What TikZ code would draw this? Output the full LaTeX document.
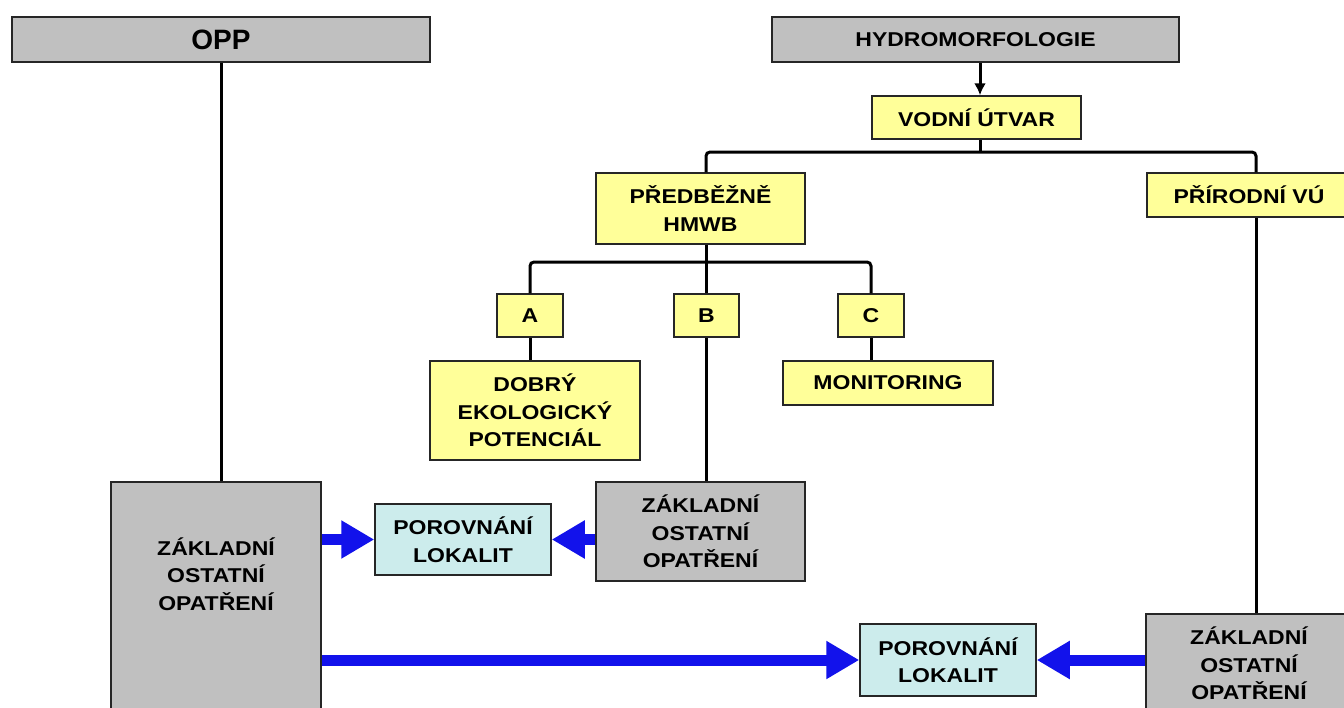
\documentclass[tikz,border=0pt]{standalone}
\usepackage{fontspec}
\setmainfont{Liberation Sans}
\newfontfamily\boxfont{Liberation Sans}[FakeStretch=1.15]
\usetikzlibrary{arrows.meta}
\definecolor{boxgray}{RGB}{192,192,192}
\definecolor{boxyellow}{RGB}{255,255,153}
\definecolor{boxcyan}{RGB}{204,236,236}
\definecolor{flowblue}{RGB}{18,18,235}

\begin{document}
\begin{tikzpicture}
    [
    x=1pt, y=-1pt,
    box/.style={draw=black!85,line width=1.5pt,rectangle,inner sep=0pt,align=center,
      font=\boxfont\bfseries\fontsize{20}{27.5}\selectfont},
    graybox/.style={box,fill=boxgray},
    yellowbox/.style={box,fill=boxyellow},
    cyanbox/.style={box,fill=boxcyan},
    conn/.style={line width=3pt},
    flow/.style={draw=flowblue,line width=11pt,-{Triangle[length=33pt,width=36pt]}}
    ]
    \clip (0,0) rectangle (1344,707);
    \fill [white] (0,0) rectangle (1344,707);
    \node (opp) at (221,39.5) [graybox,minimum width=418pt,minimum height=45pt,
      font=\bfseries\fontsize{28}{30}\selectfont] {OPP};
    \node (hydro) at (975.5,39.5) [graybox,minimum width=407pt,minimum height=45pt] {HYDROMORFOLOGIE};
    \node (vodni) at (976.5,117.5) [yellowbox,minimum width=209pt,minimum height=43pt] {VODNÍ ÚTVAR};
    \node (hmwb) at (700.5,208.5) [yellowbox,minimum width=209pt,minimum height=71pt] {PŘEDBĚŽNĚ\\HMWB};
    \node (prir) at (1249,195) [yellowbox,minimum width=204pt,minimum height=44pt] {PŘÍRODNÍ VÚ};
    \node (a) at (530,315.5) [yellowbox,minimum width=66pt,minimum height=43pt] {A};
    \node (b) at (706.5,315.5) [yellowbox,minimum width=65pt,minimum height=43pt] {B};
    \node (c) at (871,315.5) [yellowbox,minimum width=66pt,minimum height=43pt] {C};
    \node (dobry) at (535,410.5) [yellowbox,minimum width=210pt,minimum height=99pt] {DOBRÝ\\EKOLOGICKÝ\\POTENCIÁL};
    \node (monit) at (888,383) [yellowbox,minimum width=210pt,minimum height=44pt] {MONITORING};
    \node (zakl1) at (216,601) [graybox,minimum width=210pt,minimum height=238pt] {};
    \node (zakl1txt) at (216,574) [box,draw=none] {ZÁKLADNÍ\\OSTATNÍ\\OPATŘENÍ};
    \node (zakl2) at (700.5,531.5) [graybox,minimum width=209pt,minimum height=99pt] {ZÁKLADNÍ\\OSTATNÍ\\OPATŘENÍ};
    \node (zakl3) at (1249,663.5) [graybox,minimum width=206pt,minimum height=99pt] {ZÁKLADNÍ\\OSTATNÍ\\OPATŘENÍ};
    \node (por1) at (463,539.5) [cyanbox,minimum width=176pt,minimum height=71pt] {POROVNÁNÍ\\LOKALIT};
    \node (por2) at (948,660) [cyanbox,minimum width=176pt,minimum height=72pt] {POROVNÁNÍ\\LOKALIT};
    \coordinate (bus1) at (980,152);
    \coordinate (bus2) at (706,262);
    \coordinate (xp) at (1256,0);
    % tree
    \draw [conn,-{Latex[length=12pt,width=12pt]}] (hydro.south -| bus1) to (vodni.north -| bus1);
    \draw [conn] (vodni.south -| bus1) to (bus1);
    \draw [conn,rounded corners=4pt] (hmwb.north -| bus2) |- (bus1) -| (prir.north -| xp);
    \draw [conn] (hmwb.south -| bus2) to (b.north -| bus2);
    \draw [conn,rounded corners=4pt] (a.north) |- (bus2) -| (c.north);
    \draw [conn] (a.south) to (a.south |- dobry.north);
    \draw [conn] (c.south) to (c.south |- monit.north);
    \draw [conn] (b.south -| bus2) to (zakl2.north -| bus2);
    \draw [conn] (opp.south) to (opp.south |- zakl1.north);
    \draw [conn] (prir.south -| xp) to (zakl3.north -| xp);
    % comparison
    \draw [flow] (por1.west -| zakl1.east) to (por1.west);
    \draw [flow] (zakl2.west |- por1.east) to (por1.east);
    \draw [flow] (por2.west -| zakl1.east) to (por2.west);
    \draw [flow] (zakl3.west |- por2.east) to (por2.east);
\end{tikzpicture}
\end{document}
